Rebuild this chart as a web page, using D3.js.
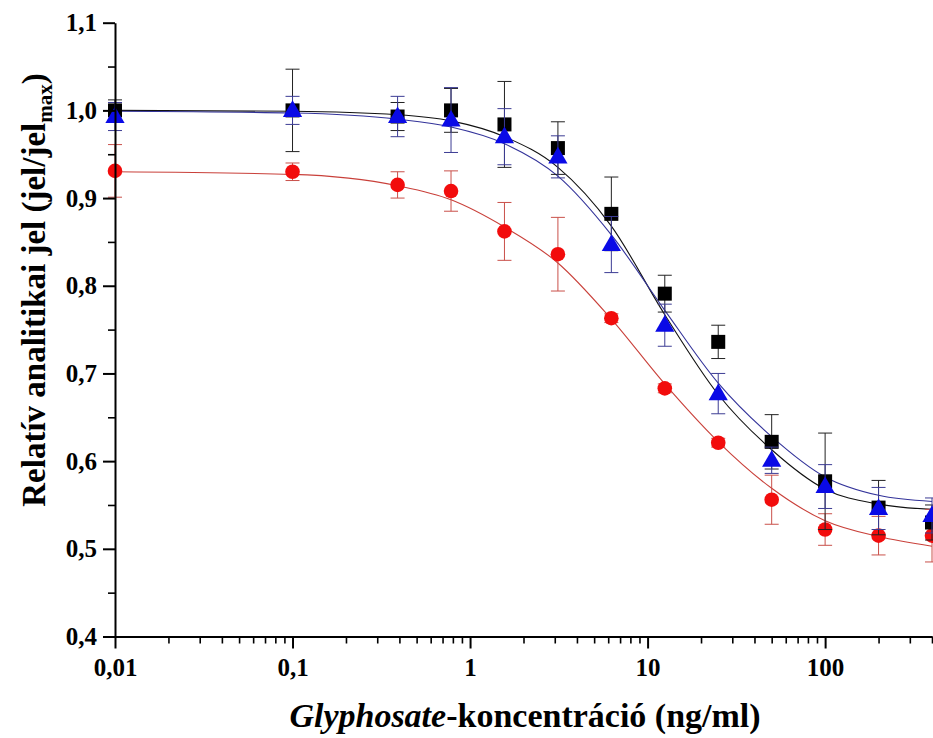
<!DOCTYPE html>
<html>
<head>
<meta charset="utf-8">
<script src="https://cdn.jsdelivr.net/npm/d3@7"></script>
<style>
  body { margin: 0; background: #fff; }
  svg { display: block; }
  svg text { font-family: "Liberation Serif", "Times New Roman", serif; font-weight: bold; }
</style>
</head>
<body>
<svg id="chart" width="933" height="738"></svg>
<script>
// concentrations (ng/ml)
const conc = [0.01, 0.1, 0.390625, 0.78125, 1.5625, 3.125, 6.25, 12.5, 25, 50, 100, 200, 400];

// measured points + errors
const blackY   = [1.0, 1.0, 0.993, 1.0, 0.984, 0.957, 0.882, 0.791, 0.736, 0.622, 0.577, 0.547, 0.530];
const blackErr = [0.012, 0.047, 0.016, 0.025, 0.049, 0.030, 0.042, 0.021, 0.019, 0.031, 0.055, 0.031, 0.020];
const redY     = [0.931, 0.930, 0.915, 0.908, 0.862, 0.836, 0.763, 0.683, 0.621, 0.556, 0.522, 0.515, 0.515];
const redErr   = [0.030, 0.010, 0.015, 0.023, 0.033, 0.042, 0.005, 0.005, 0.005, 0.028, 0.018, 0.022, 0.030];
const blueY    = [0.993, 1.0, 0.993, 0.989, 0.970, 0.947, 0.847, 0.755, 0.677, 0.601, 0.571, 0.546, 0.538];
const blueErr  = [0.016, 0.016, 0.023, 0.037, 0.032, 0.024, 0.032, 0.024, 0.023, 0.015, 0.025, 0.024, 0.020];

// fitted curves at the same concentrations
const blackFit = [1.0, 0.999, 0.995, 0.988, 0.970, 0.935, 0.868, 0.767, 0.676, 0.613, 0.568, 0.551, 0.545];
const blueFit  = [0.999, 0.997, 0.990, 0.981, 0.962, 0.925, 0.858, 0.772, 0.689, 0.628, 0.582, 0.561, 0.554];
const redFit   = [0.930, 0.927, 0.914, 0.898, 0.867, 0.826, 0.762, 0.688, 0.622, 0.569, 0.532, 0.514, 0.503];

// ticks
const yMajor = [0.4, 0.5, 0.6, 0.7, 0.8, 0.9, 1.0, 1.1];
const yMinor = [0.45, 0.55, 0.65, 0.75, 0.85, 0.95, 1.05];
const xMajor = [0.01, 0.1, 1, 10, 100];
const xLabels = ["0,01", "0,1", "1", "10", "100"];

const svg = d3.select("#chart");

const x = d3.scaleLog().domain([0.01, 400]).range([115, 932]);
const y = d3.scaleLinear().domain([0.4, 1.1]).range([636.5, 22.7]);

// minor x ticks 2..9 per decade
const xMinor = [];
xMajor.forEach(d => {
  for (let k = 2; k <= 9; k++) {
    const v = d * k;
    if (v <= 400) xMinor.push(v);
  }
});

const series = [
  { ys: redY, err: redErr, fit: redFit, marker: "circle", fill: "#f20c0c", line: "#c9403a", errColor: "#c9504a" },
  { ys: blackY, err: blackErr, fit: blackFit, marker: "square", fill: "#000", line: "#111", errColor: "#222" },
  { ys: blueY, err: blueErr, fit: blueFit, marker: "triangle", fill: "#0a0ae6", line: "#33339a", errColor: "#3c3c94" }
];

const lineGen = d3.line()
  .x(d => x(d[0]))
  .y(d => y(d[1]))
  .curve(d3.curveMonotoneX);

const plot = svg.append("g");

// fit curves first
series.forEach(s => {
  plot.append("path")
    .datum(conc.map((c, i) => [c, s.fit[i]]))
    .attr("fill", "none")
    .attr("stroke", s.line)
    .attr("stroke-width", 1.1)
    .attr("d", lineGen);
});

// error bars + markers
series.forEach(s => {
  const g = plot.append("g");
  const pts = conc.map((c, i) => ({ c: c, v: s.ys[i], e: s.err[i] }));

  const eb = g.selectAll(".eb").data(pts).enter().append("g")
    .attr("stroke", s.errColor)
    .attr("stroke-width", 1);
  eb.append("line")
    .attr("x1", d => x(d.c)).attr("x2", d => x(d.c))
    .attr("y1", d => y(d.v - d.e)).attr("y2", d => y(d.v + d.e));
  eb.append("line")
    .attr("x1", d => x(d.c) - 7).attr("x2", d => x(d.c) + 7)
    .attr("y1", d => y(d.v + d.e)).attr("y2", d => y(d.v + d.e));
  eb.append("line")
    .attr("x1", d => x(d.c) - 7).attr("x2", d => x(d.c) + 7)
    .attr("y1", d => y(d.v - d.e)).attr("y2", d => y(d.v - d.e));

  if (s.marker === "circle") {
    g.selectAll("circle").data(pts).enter().append("circle")
      .attr("cx", d => x(d.c)).attr("cy", d => y(d.v))
      .attr("r", 7.3).attr("fill", s.fill);
  } else if (s.marker === "square") {
    g.selectAll("rect").data(pts).enter().append("rect")
      .attr("x", d => x(d.c) - 7).attr("y", d => y(d.v) - 7)
      .attr("width", 14).attr("height", 14).attr("fill", s.fill);
  } else {
    const tri = d3.symbol().type(d3.symbolTriangle).size(160);
    g.selectAll("path").data(pts).enter().append("path")
      .attr("transform", d => `translate(${x(d.c)},${y(d.v) + 1})`)
      .attr("d", tri).attr("fill", s.fill);
  }
});

// axes
const axisStyle = g => {
  g.attr("font-family", null).attr("font-size", null);
  g.select(".domain").attr("stroke", "#000").attr("stroke-width", 2);
  g.selectAll(".tick line").attr("stroke", "#000").attr("stroke-width", 2);
  g.selectAll(".tick text").attr("fill", "#000").style("font-size", "25px");
};

svg.append("g")
  .attr("transform", "translate(0,636.5)")
  .call(d3.axisBottom(x).tickValues(xMinor).tickSize(7).tickFormat(""))
  .call(g => { g.select(".domain").remove(); g.selectAll(".tick line").attr("stroke", "#000").attr("stroke-width", 1.6); });

svg.append("g")
  .attr("transform", "translate(0,636.5)")
  .call(d3.axisBottom(x).tickValues(xMajor).tickSize(12).tickSizeOuter(0).tickPadding(10)
    .tickFormat((d, i) => xLabels[i]))
  .call(axisStyle);

svg.append("g")
  .attr("transform", "translate(115,0)")
  .call(d3.axisLeft(y).tickValues(yMinor).tickSize(7).tickFormat(""))
  .call(g => { g.select(".domain").remove(); g.selectAll(".tick line").attr("stroke", "#000").attr("stroke-width", 1.6); });

svg.append("g")
  .attr("transform", "translate(115,0)")
  .call(d3.axisLeft(y).tickValues(yMajor).tickSize(12).tickSizeOuter(0).tickPadding(6)
    .tickFormat(d => d3.format(".1f")(d).replace(".", ",")))
  .call(axisStyle);

// axis titles
const xt = svg.append("text")
  .attr("x", 525).attr("y", 727)
  .attr("text-anchor", "middle")
  .style("font-size", "34px");
xt.append("tspan").style("font-style", "italic").text("Glyphosate");
xt.append("tspan").text("-koncentráció (ng/ml)");

const yt = svg.append("text")
  .attr("transform", "translate(45,290) rotate(-90)")
  .attr("text-anchor", "middle")
  .style("font-size", "33px");
yt.append("tspan").text("Relatív analitikai jel (jel/jel");
yt.append("tspan").attr("dy", 7).style("font-size", "21px").text("max");
yt.append("tspan").attr("dy", -7).text(")");
</script>
</body>
</html>
